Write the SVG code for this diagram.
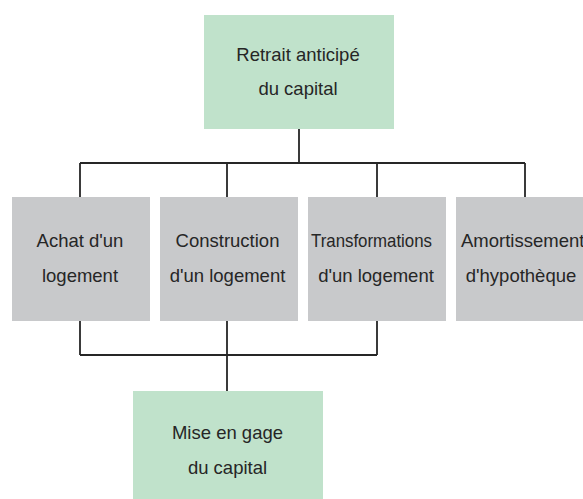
<svg xmlns="http://www.w3.org/2000/svg" width="583" height="499" viewBox="0 0 583 499">
<style>
.g{fill:#c0e2cb}
.s{fill:#c8c9cb}
.t{font-family:"Liberation Sans",Arial,sans-serif;font-size:18.5px;fill:#262626;text-anchor:middle}
.c{fill:none;stroke:#262626;stroke-width:1.8}
</style>
<rect width="583" height="499" fill="#ffffff"/>
<g id="connectors">
<path class="c" d="M299,129V163M80,163H525M80,163V197M227,163V197M377,163V197M525,163V197"/>
<path class="c" d="M80,321V355M227,321V391M377,321V355M80,355H377"/>
</g>
<g id="n-retrait">
<rect class="g" x="204" y="15" width="190" height="114"/>
<text class="t" x="298" y="61">Retrait anticipé</text>
<text class="t" x="298" y="95">du capital</text>
</g>
<g id="n-achat">
<rect class="s" x="12" y="197" width="138" height="124"/>
<text class="t" x="80" y="247">Achat d'un</text>
<text class="t" x="80" y="281.5">logement</text>
</g>
<g id="n-construction">
<rect class="s" x="160" y="197" width="138" height="124"/>
<text class="t" x="227.5" y="247">Construction</text>
<text class="t" x="227.5" y="281.5">d'un logement</text>
</g>
<g id="n-transformations">
<rect class="s" x="308" y="197" width="138" height="124"/>
<text class="t" x="311" y="247" style="text-anchor:start" textLength="121" lengthAdjust="spacingAndGlyphs">Transformations</text>
<text class="t" x="376" y="281.5">d'un logement</text>
</g>
<g id="n-amortissement">
<rect class="s" x="456" y="197" width="138" height="124"/>
<text class="t" x="461" y="247" style="text-anchor:start">Amortissement</text>
<text class="t" x="521" y="281.5">d'hypothèque</text>
</g>
<g id="n-mise">
<rect class="g" x="133" y="391" width="190" height="118"/>
<text class="t" x="227.5" y="439">Mise en gage</text>
<text class="t" x="227.5" y="474">du capital</text>
</g>
</svg>
